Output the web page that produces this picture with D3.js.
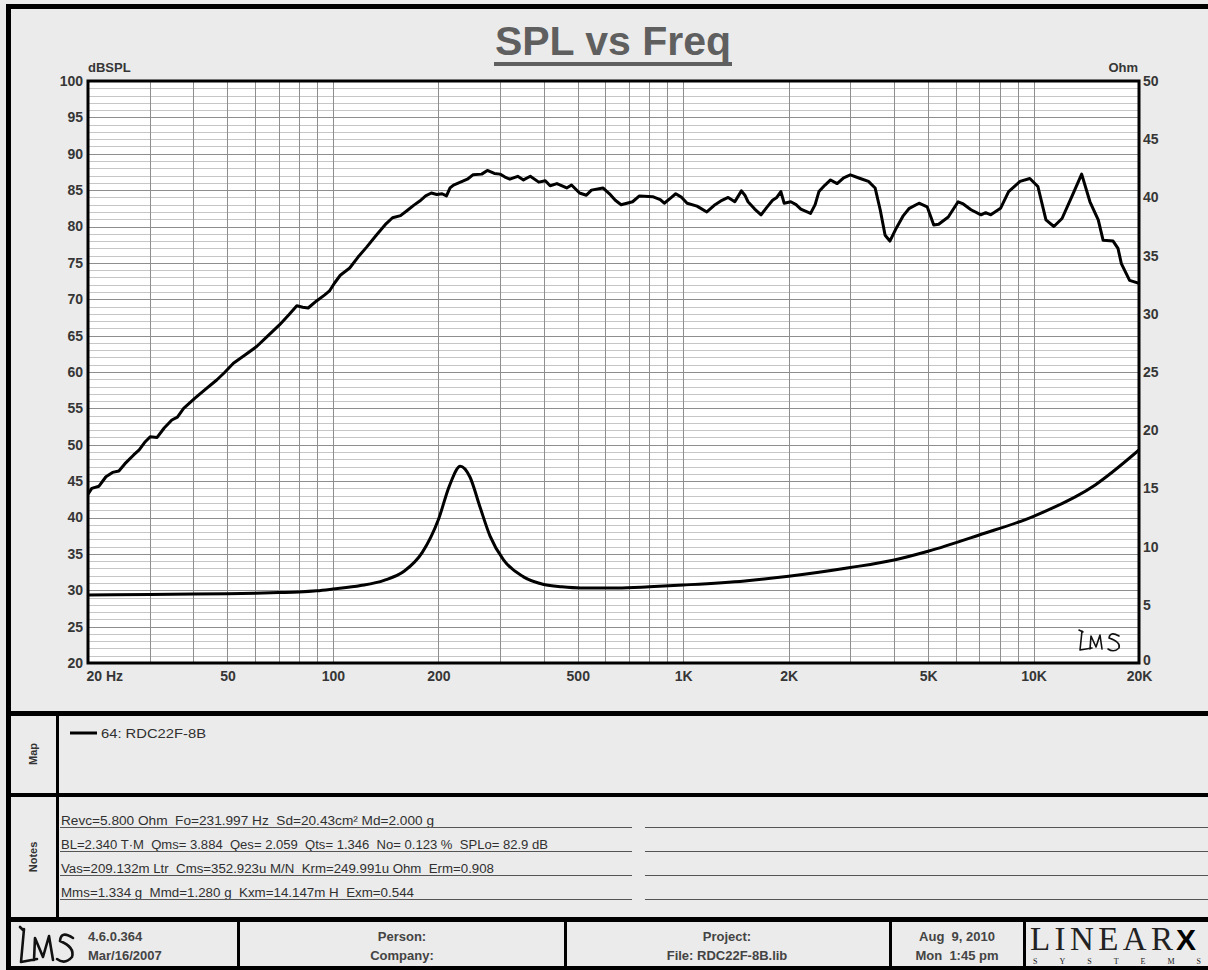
<!DOCTYPE html>
<html>
<head>
  <title>SPL vs Freq</title>
  <style>
    body { margin: 0; background: #ebebeb; }
    svg { display: block; font-family: "Liberation Sans", Arial, sans-serif; }
    .tick-label { font-size: 14px; font-weight: bold; fill: #363636; }
    .note { font-size: 12px; fill: #303030; white-space: pre; }
    .foot { font-size: 13px; font-weight: bold; fill: #444; white-space: pre; }
  </style>
</head>
<body>
  <svg width="1208" height="970"></svg>
  <script src="https://d3js.org/d3.v7.min.js"></script>
  <script>
    // SPL curve (Hz, dBSPL)
    const splFreq = [20, 20.5, 21.5, 22.5, 23.5, 24.5, 25.5, 27, 28, 29, 30.1, 31.5, 33, 34.7, 36, 37.5, 40.4, 43, 46.6, 49,
      52, 56, 60.6, 65, 70.5, 75, 78.9, 82, 85, 90, 94.8, 98, 101, 105, 111.7, 118, 125, 133, 142, 148,
      156, 163, 170, 177, 184, 191, 198, 205, 211, 216, 221, 234, 242, 251, 266, 276, 289, 300, 310, 320,
      337, 350, 366, 387, 404, 417, 436, 465, 480, 506, 529, 547, 590, 616, 640, 665, 717, 750, 818, 860,
      883, 920, 952, 990, 1026, 1095, 1168, 1233, 1290, 1344, 1404, 1466, 1500, 1531, 1600, 1668, 1730, 1799, 1850, 1900,
      1942, 2028, 2100, 2166, 2310, 2380, 2440, 2540, 2634, 2750, 2870, 3000, 3200, 3380, 3530, 3650, 3770, 3890, 4060, 4250,
      4420, 4710, 4970, 5190, 5360, 5710, 6090, 6300, 6630, 7080, 7300, 7550, 8050, 8490, 9150, 9760, 10290, 10850, 11430, 12060,
      12860, 13720, 14490, 15300, 15800, 16870, 17420, 17810, 18800, 20000];
    const splDb = [43.2, 44.0, 44.3, 45.6, 46.2, 46.4, 47.4, 48.6, 49.3, 50.3, 51.1, 51.0, 52.3, 53.4, 53.8, 55.0, 56.4, 57.5, 58.9, 59.9,
      61.2, 62.3, 63.5, 64.9, 66.5, 67.9, 69.1, 68.9, 68.8, 69.8, 70.6, 71.2, 72.2, 73.3, 74.3, 75.8, 77.2, 78.8, 80.4, 81.2,
      81.5, 82.2, 82.9, 83.5, 84.2, 84.6, 84.4, 84.5, 84.2, 85.3, 85.7, 86.2, 86.5, 87.1, 87.2, 87.7, 87.3, 87.2, 86.8, 86.5,
      86.9, 86.4, 86.9, 86.1, 86.3, 85.6, 85.9, 85.3, 85.7, 84.6, 84.3, 85.0, 85.3, 84.5, 83.6, 83.0, 83.4, 84.2, 84.1, 83.7,
      83.2, 83.9, 84.5, 84.0, 83.2, 82.8, 82.0, 83.0, 83.6, 84.0, 83.4, 84.9, 84.3, 83.4, 82.4, 81.6, 82.6, 83.6, 84.0, 84.8,
      83.2, 83.4, 83.0, 82.4, 81.8, 83.0, 84.8, 85.7, 86.4, 85.9, 86.7, 87.1, 86.6, 86.2, 85.3, 82.3, 78.8, 78.0, 79.8, 81.5,
      82.5, 83.2, 82.7, 80.2, 80.3, 81.3, 83.4, 83.1, 82.3, 81.6, 81.9, 81.6, 82.5, 84.8, 86.2, 86.6, 85.5, 80.9, 80.0, 81.1,
      84.1, 87.2, 83.4, 80.9, 78.1, 78.0, 77.0, 74.9, 72.6, 72.2];

    // impedance curve (Hz, Ohm)
    const zFreq = [20, 30, 40, 50, 60, 70, 80, 90, 100, 120, 140, 160, 180, 200, 215, 231, 246, 263, 281, 307,
      350, 400, 450, 510, 650, 800, 1000, 1500, 2000, 3000, 4000, 5000, 7000, 10000, 15000, 20000];
    const zOhm = [5.85, 5.88, 5.92, 5.96, 6.0, 6.05, 6.1, 6.2, 6.35, 6.65, 7.1, 7.9, 9.5, 12.3, 15.2, 16.9, 16.0, 13.4, 10.9, 8.85,
      7.4, 6.75, 6.55, 6.45, 6.45, 6.55, 6.7, 7.05, 7.45, 8.2, 8.85, 9.6, 11.0, 12.6, 15.3, 18.3];

    const freqTicks = [20, 50, 100, 200, 500, 1000, 2000, 5000, 10000, 20000];
    const freqLabels = ["20 Hz", "50", "100", "200", "500", "1K", "2K", "5K", "10K", "20K"];
    const dbTicks = [20, 25, 30, 35, 40, 45, 50, 55, 60, 65, 70, 75, 80, 85, 90, 95, 100];
    const ohmTicks = [0, 5, 10, 15, 20, 25, 30, 35, 40, 45, 50];

    const legendLabel = "64: RDC22F-8B";
    const notes = [
      "Revc=5.800 Ohm  Fo=231.997 Hz  Sd=20.43cm\u00b2 Md=2.000 g",
      "BL=2.340 T\u00b7M  Qms= 3.884  Qes= 2.059  Qts= 1.346  No= 0.123 %  SPLo= 82.9 dB",
      "Vas=209.132m Ltr  Cms=352.923u M/N  Krm=249.991u Ohm  Erm=0.908",
      "Mms=1.334 g  Mmd=1.280 g  Kxm=14.147m H  Exm=0.544"
    ];
    const noteWidths = [373, 487, 433, 353];

    const svg = d3.select("svg");
    const plot = {left: 88, right: 1139, top: 81, bottom: 663};

    const x = d3.scaleLog().domain([20, 20000]).range([plot.left, plot.right]);
    const yDb = d3.scaleLinear().domain([20, 100]).range([plot.bottom, plot.top]);
    const yOhm = d3.scaleLinear().domain([0, 50]).range([plot.bottom, plot.top]);

    // page background
    svg.append("rect").attr("width", 1208).attr("height", 970).attr("fill", "#ebebeb");

    // title
    svg.append("text")
      .attr("x", 613).attr("y", 55)
      .attr("text-anchor", "middle")
      .attr("font-size", 41).attr("font-weight", "bold")
      .attr("fill", "#5f5f5f")
      .text("SPL vs Freq");
    svg.append("rect").attr("x", 494).attr("y", 62).attr("width", 238).attr("height", 4).attr("fill", "#5f5f5f");

    // plot area + grid
    svg.append("rect")
      .attr("x", plot.left).attr("y", plot.top)
      .attr("width", plot.right - plot.left).attr("height", plot.bottom - plot.top)
      .attr("fill", "#fff");

    const grid = svg.append("g");
    grid.selectAll(".hminor")
      .data(d3.range(21, 100).filter(d => d % 5 !== 0))
      .enter().append("line")
      .attr("x1", plot.left).attr("x2", plot.right)
      .attr("y1", d => Math.round(yDb(d)) + 0.5).attr("y2", d => Math.round(yDb(d)) + 0.5)
      .attr("stroke", "#c6c6c6");
    grid.selectAll(".hmajor")
      .data(dbTicks)
      .enter().append("line")
      .attr("x1", plot.left).attr("x2", plot.right)
      .attr("y1", d => Math.round(yDb(d)) + 0.5).attr("y2", d => Math.round(yDb(d)) + 0.5)
      .attr("stroke", "#8e8e8e");

    const vlines = [];
    [10, 100, 1000, 10000].forEach(dec => {
      for (let m = 1; m <= 9; m++) {
        const f = m * dec;
        if (f > 20 && f < 20000) vlines.push(f);
      }
    });
    grid.selectAll(".vline")
      .data(vlines)
      .enter().append("line")
      .attr("y1", plot.top).attr("y2", plot.bottom)
      .attr("x1", d => Math.round(x(d)) + 0.5).attr("x2", d => Math.round(x(d)) + 0.5)
      .attr("stroke", "#8e8e8e");

    // curves
    svg.append("clipPath").attr("id", "clip").append("rect")
      .attr("x", plot.left).attr("y", plot.top)
      .attr("width", plot.right - plot.left).attr("height", plot.bottom - plot.top);

    const splLine = d3.line().x(d => x(d[0])).y(d => yDb(d[1]));
    svg.append("path")
      .datum(splFreq.map((f, i) => [f, splDb[i]]))
      .attr("clip-path", "url(#clip)")
      .attr("d", splLine)
      .attr("fill", "none").attr("stroke", "#000").attr("stroke-width", 3)
      .attr("stroke-linejoin", "round");

    const zLine = d3.line().x(d => x(d[0])).y(d => yOhm(d[1])).curve(d3.curveMonotoneX);
    svg.append("path")
      .datum(zFreq.map((f, i) => [f, zOhm[i]]))
      .attr("clip-path", "url(#clip)")
      .attr("d", zLine)
      .attr("fill", "none").attr("stroke", "#000").attr("stroke-width", 3);

    // plot border
    svg.append("rect")
      .attr("x", plot.left).attr("y", plot.top)
      .attr("width", plot.right - plot.left).attr("height", plot.bottom - plot.top)
      .attr("fill", "none").attr("stroke", "#000").attr("stroke-width", 3);

    // axes
    const leftAxis = svg.append("g")
      .attr("transform", "translate(" + (plot.left - 2) + ",0)")
      .call(d3.axisLeft(yDb).tickValues(dbTicks).tickSize(0).tickPadding(3));
    const rightAxis = svg.append("g")
      .attr("transform", "translate(" + (plot.right + 2) + ",0)")
      .call(d3.axisRight(yOhm).tickValues(ohmTicks).tickSize(0).tickPadding(2));
    const bottomAxis = svg.append("g")
      .attr("transform", "translate(0," + plot.bottom + ")")
      .call(d3.axisBottom(x).tickValues(freqTicks).tickSize(0).tickPadding(8)
        .tickFormat((d, i) => freqLabels[i]));
    [leftAxis, rightAxis, bottomAxis].forEach(a => {
      a.select(".domain").remove();
      a.selectAll("text").attr("class", "tick-label").attr("font-family", null).attr("font-size", null);
    });
    bottomAxis.selectAll("text").filter((d, i) => i === 0).attr("text-anchor", "start").attr("dx", -2);
    rightAxis.selectAll("text").filter(d => d === 0).attr("dy", "0.1em");

    svg.append("text").attr("class", "tick-label").attr("x", 88).attr("y", 72).style("font-size", "13px").text("dBSPL");
    svg.append("text").attr("class", "tick-label").attr("x", 1138).attr("y", 72).attr("text-anchor", "end").style("font-size", "13px").text("Ohm");

    // handwritten LMS mark
    const lmsPath = "M6,3 L2,1 M5,2 L3,21 L15,19 M13,20 L14,7 L19,18 L23,6 L25,20 M42,7 Q33,2 32,9 Q44,13 42,19 Q37,24 31,20";
    svg.append("path").attr("d", lmsPath)
      .attr("transform", "translate(1077,629)")
      .attr("fill", "none").attr("stroke", "#111").attr("stroke-width", 1.6)
      .attr("stroke-linecap", "round").attr("stroke-linejoin", "round");

    // frame
    const frame = svg.append("g").attr("fill", "#000");
    frame.append("rect").attr("x", 6).attr("y", 4).attr("width", 1210).attr("height", 5);
    frame.append("rect").attr("x", 6).attr("y", 4).attr("width", 5).attr("height", 970);
    frame.append("rect").attr("x", 6).attr("y", 711).attr("width", 1210).attr("height", 5);
    frame.append("rect").attr("x", 6).attr("y", 793).attr("width", 1210).attr("height", 4);
    frame.append("rect").attr("x", 6).attr("y", 917).attr("width", 1210).attr("height", 5);
    frame.append("rect").attr("x", 6).attr("y", 966).attr("width", 1210).attr("height", 5);
    frame.append("rect").attr("x", 56).attr("y", 711).attr("width", 3).attr("height", 208);
    [237, 564, 889, 1023].forEach(px => {
      frame.append("rect").attr("x", px).attr("y", 917).attr("width", 3).attr("height", 52);
    });

    // section labels
    svg.append("text").attr("transform", "translate(37,754) rotate(-90)")
      .attr("text-anchor", "middle").attr("font-size", 11).attr("font-weight", "bold").attr("fill", "#333").text("Map");
    svg.append("text").attr("transform", "translate(37,857) rotate(-90)")
      .attr("text-anchor", "middle").attr("font-size", 11).attr("font-weight", "bold").attr("fill", "#333").text("Notes");

    // map legend
    svg.append("line").attr("x1", 70).attr("x2", 97).attr("y1", 733).attr("y2", 733)
      .attr("stroke", "#000").attr("stroke-width", 3);
    svg.append("text").attr("class", "note").attr("x", 101).attr("y", 738)
      .attr("textLength", 105).attr("lengthAdjust", "spacingAndGlyphs").style("font-size", "13px").text(legendLabel);

    // notes
    const noteY = [825, 849, 873, 897];
    notes.forEach((t, i) => {
      svg.append("text").attr("class", "note").attr("x", 61).attr("y", noteY[i])
        .attr("textLength", noteWidths[i]).attr("lengthAdjust", "spacingAndGlyphs").text(t);
      svg.append("line").attr("x1", 60).attr("x2", 632).attr("y1", noteY[i] + 2.5).attr("y2", noteY[i] + 2.5)
        .attr("stroke", "#555");
      svg.append("line").attr("x1", 645).attr("x2", 1208).attr("y1", noteY[i] + 2.5).attr("y2", noteY[i] + 2.5)
        .attr("stroke", "#555");
    });

    // footer
    svg.append("path").attr("d", "M4,4 L1,1 M5,3 L2,36 L18,33 M15,34 L16,12 L24,31 L30,10 L34,34 M54,12 Q42,4 41,15 Q56,21 53,31 Q46,39 38,33")
      .attr("transform", "translate(19,926)")
      .attr("fill", "none").attr("stroke", "#111").attr("stroke-width", 2.6)
      .attr("stroke-linecap", "round").attr("stroke-linejoin", "round");
    const footRows = [
      {x: 88, anchor: "start", lines: ["4.6.0.364", "Mar/16/2007"]},
      {x: 402, anchor: "middle", lines: ["Person:", "Company:"]},
      {x: 727, anchor: "middle", lines: ["Project:", "File: RDC22F-8B.lib"]},
      {x: 957, anchor: "middle", lines: ["Aug  9, 2010", "Mon  1:45 pm"]}
    ];
    footRows.forEach(r => {
      r.lines.forEach((t, i) => {
        svg.append("text").attr("class", "foot").attr("x", r.x).attr("y", 941 + i * 19)
          .attr("text-anchor", r.anchor).text(t);
      });
    });

    // LINEARX logo
    svg.append("text").attr("x", 1030).attr("y", 950)
      .attr("font-family", "Liberation Serif, serif").attr("font-size", 33).attr("fill", "#222")
      .attr("textLength", 143).attr("lengthAdjust", "spacing").text("LINEAR");
    svg.append("text").attr("x", 1176).attr("y", 950)
      .attr("font-family", "Liberation Sans, Arial, sans-serif").attr("font-weight", "bold")
      .attr("font-size", 30).attr("fill", "#000").text("X");
    svg.append("text").attr("x", 1033).attr("y", 964)
      .attr("font-family", "Liberation Serif, serif").attr("font-size", 8).attr("fill", "#222")
      .attr("textLength", 168).attr("lengthAdjust", "spacing").text("SYSTEMS");
  </script>
</body>
</html>
